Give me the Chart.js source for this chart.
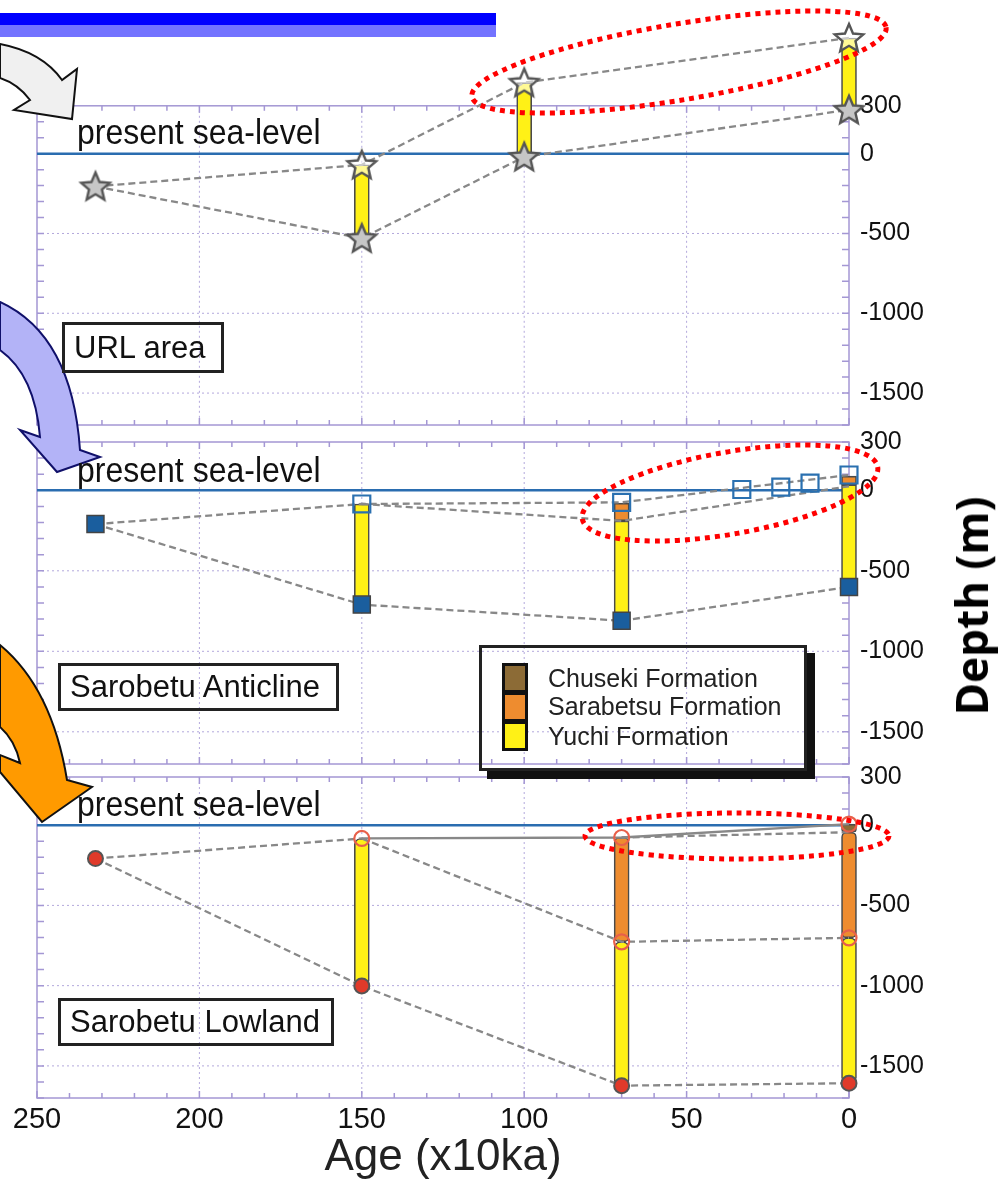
<!DOCTYPE html>
<html>
<head>
<meta charset="utf-8">
<script src="https://cdn.jsdelivr.net/npm/chart.js@4.4.1/dist/chart.umd.min.js"></script>
<style>
  body { margin: 0; background: #fff; }
  #wrap { position: relative; width: 998px; height: 1184px; overflow: hidden; font-family: "Liberation Sans", Arial, sans-serif; color: #111; }
  #wrap canvas { position: absolute; left: 0; top: 0; }
  .bar1 { position: absolute; left: 0; top: 13px; width: 496px; height: 12px; background: #0000ff; }
  .bar2 { position: absolute; left: 0; top: 25px; width: 496px; height: 12px; background: #7373ff; }
  .sea { position: absolute; left: 77px; font-size: 32px; line-height: 32px; white-space: nowrap; z-index: 6; transform: scaleY(1.08); transform-origin: left bottom; }
  .area { position: absolute; border: 3px solid #222; box-sizing: border-box; font-size: 31px; padding-left: 9px; white-space: nowrap; z-index: 6; }
  .legend { position: absolute; left: 479px; top: 645px; width: 328px; height: 126px; border: 3px solid #222; box-sizing: border-box; box-shadow: 8px 8px 0 #111; z-index: 6; }
  .sw { position: absolute; left: 20px; width: 26px; height: 30px; border: 3px solid #111; box-sizing: border-box; }
  .lt { position: absolute; left: 66px; font-size: 25px; line-height: 25px; white-space: nowrap; color: #222; }
  .depth { position: absolute; left: 971px; top: 606px; transform: translate(-50%, -50%) rotate(-90deg); font-family: "Open Sans", sans-serif; font-weight: bold; font-size: 44px; white-space: nowrap; color: #000; z-index: 6; }
</style>
</head>
<body>
<div id="wrap">
  <div class="bar1"></div><div class="bar2"></div>
  <canvas id="c1" width="998" height="1184" style="z-index:1"></canvas>
  <canvas id="c2" width="998" height="1184" style="z-index:2"></canvas>
  <canvas id="c3" width="998" height="1184" style="z-index:3"></canvas>
  <canvas id="deco" width="998" height="1184" style="z-index:5"></canvas>

  <div class="sea" style="top:117px">present sea-level</div>
  <div class="sea" style="top:455px">present sea-level</div>
  <div class="sea" style="top:789px">present sea-level</div>

  <div class="area" style="left:62px;top:322px;width:162px;height:51px;line-height:45px">URL area</div>
  <div class="area" style="left:58px;top:663px;width:281px;height:48px;line-height:42px">Sarobetu Anticline</div>
  <div class="area" style="left:58px;top:998px;width:276px;height:48px;line-height:42px">Sarobetu Lowland</div>

  <div class="legend">
    <div class="sw" style="top:15px;background:#8c6b36"></div>
    <div class="sw" style="top:44px;background:#ee8c2f"></div>
    <div class="sw" style="top:73px;background:#fff116"></div>
    <div class="lt" style="top:18px">Chuseki Formation</div>
    <div class="lt" style="top:46px">Sarabetsu Formation</div>
    <div class="lt" style="top:76px">Yuchi Formation</div>
  </div>

  <div class="depth">Depth (m)</div>
</div>

<script>
// axis ticks
const depthTicks = [300, 0, -500, -1000, -1500];
const seaAges = [250, 0];
const seaDepth = [0, 0];

// URL area
const urlAges = [232, 150, 100, 0];
const urlUpper = [-205, -70, 445, 725];
const urlLower = [-205, -530, -20, 275];
const urlColAges = [150, 100, 0];
const urlYuchiTop = [-70, 445, 725];
const urlYuchiBase = [-530, -20, 275];

// Sarobetu Anticline
const antAges = [232, 150, 70, 0];
const antUpper = [-210, -85, -75, 95];
const antLower = [-210, -710, -810, -600];
const antBranchAges = [150, 70, 0];
const antBranch = [-85, -190, 25];
const antTerraceAges = [33, 21, 12];
const antTerrace = [5, 20, 45];
const antColAges = [150, 70, 0];
const antSarabetsuTop = [null, -80, 88];
const antSarabetsuBase = [null, -190, 35];
const antYuchiTop = [-85, -190, 35];
const antYuchiBase = [-710, -810, -600];

// Sarobetu Lowland
const lowAges = [232, 150, 70, 0];
const lowUpper = [-208, -83, -77, 6];
const lowLower = [-208, -1002, -1623, -1608];
const lowMidAges = [150, 70, 0];
const lowMid = [-83, -727, -702];
const lowBranchAges = [70, 0];
const lowBranch = [-77, -44];
const lowColAges = [150, 70, 0];
const lowChusekiTop = [null, null, 6];
const lowChusekiBase = [null, null, -44];
const lowSarabetsuTop = [null, -77, -44];
const lowSarabetsuBase = [null, -727, -702];
const lowYuchiTop = [-83, -727, -702];
const lowYuchiBase = [-1002, -1623, -1608];

Chart.defaults.font.family = "'Liberation Sans', Arial, sans-serif";

const YELLOW = '#fff116', ORANGE = '#ee8c2f', BROWN = '#8c6b36';
const frameColor = '#a497d4';
const gridColor = '#b3a8dc';

function pts(ages, vals) {
  const out = [];
  ages.forEach((a, i) => { if (vals[i] !== null) out.push({ x: a, y: vals[i] }); });
  return out;
}
function cols(ages, tops, bases) {
  const out = [];
  ages.forEach((a, i) => { if (tops[i] !== null) out.push({ x: a, y: [bases[i], tops[i]] }); });
  return out;
}

function starImg(fill) {
  const c = document.createElement('canvas');
  c.width = 36; c.height = 36;
  const g = c.getContext('2d');
  g.beginPath();
  for (let i = 0; i < 10; i++) {
    const r = i % 2 ? 6.8 : 15;
    const a = -Math.PI / 2 + i * Math.PI / 5;
    g.lineTo(18 + r * Math.cos(a), 19 + r * Math.sin(a));
  }
  g.closePath();
  g.fillStyle = fill; g.fill();
  g.lineWidth = 2.4; g.strokeStyle = '#555'; g.stroke();
  return c;
}
const starFull = starImg('#c6c6c6');
const starOpen = starImg('rgba(255,255,255,0.55)');

function seaLine() {
  return { type: 'line', data: pts(seaAges, seaDepth), borderColor: '#2a6db0', borderWidth: 2.5, pointRadius: 0, order: 6 };
}
function bar(data, color, radius) {
  return { type: 'bar', data, backgroundColor: color, borderColor: '#4a4a4a', borderWidth: 1.6, borderSkipped: false,
           barThickness: 15, grouped: false, borderRadius: radius || 0, order: 5, clip: false };
}
function path(data, dashed) {
  return { type: 'line', data, borderColor: '#888', borderWidth: 2.3, borderDash: dashed === false ? [] : [7, 4],
           pointRadius: 0, tension: 0, order: 3, clip: false };
}
function marks(data, style) {
  return Object.assign({ type: 'line', data, showLine: false, order: 1, clip: false }, style);
}

const framePlugin = {
  id: 'frame',
  beforeDatasetsDraw(chart) {
    const { ctx, chartArea: a, scales: { x, y } } = chart;
    const top = y.getPixelForValue(300);
    const bottom = a.bottom;
    ctx.save();
    // dotted grid
    ctx.strokeStyle = gridColor; ctx.lineWidth = 1; ctx.setLineDash([2, 3]);
    ctx.beginPath();
    [200, 150, 100, 50].forEach(v => { const px = x.getPixelForValue(v); ctx.moveTo(px, top); ctx.lineTo(px, bottom); });
    [-500, -1000, -1500].forEach(v => { const py = y.getPixelForValue(v); ctx.moveTo(a.left, py); ctx.lineTo(a.right, py); });
    ctx.stroke();
    ctx.setLineDash([]);
    // box and minor ticks
    ctx.strokeStyle = frameColor; ctx.lineWidth = 1.5;
    ctx.strokeRect(a.left, top, a.right - a.left, bottom - top);
    ctx.beginPath();
    for (let v = 0; v <= 250; v += 10) {
      const px = x.getPixelForValue(v);
      const len = v % 50 === 0 ? 7 : 5;
      ctx.moveTo(px, top); ctx.lineTo(px, top + len);
      ctx.moveTo(px, bottom); ctx.lineTo(px, bottom - len);
    }
    for (let v = -1700; v <= 300; v += 100) {
      const py = y.getPixelForValue(v);
      ctx.moveTo(a.left, py); ctx.lineTo(a.left + 7, py);
      ctx.moveTo(a.right, py); ctx.lineTo(a.right - 7, py);
    }
    ctx.stroke();
    ctx.restore();
  }
};

function makePanel(id, datasets, o) {
  return new Chart(document.getElementById(id), {
    type: 'line',
    data: { datasets },
    options: {
      responsive: false,
      animation: false,
      devicePixelRatio: 1,
      layout: { padding: { left: 37, right: 0, top: o.padTop, bottom: o.padBottom } },
      plugins: { legend: { display: false }, tooltip: { enabled: false } },
      scales: {
        x: {
          type: 'linear', reverse: true, min: 0, max: 250, offset: false,
          grid: { display: false, drawTicks: false }, border: { display: false },
          ticks: { display: o.showX, stepSize: 50, color: '#111', padding: 5, font: { size: 29 }, callback: v => String(v) },
          title: { display: o.showX, text: 'Age (x10ka)', color: '#222', padding: 0, font: { size: 44 } },
          afterFit: s => { s.height = o.xHeight; }
        },
        y: {
          type: 'linear', position: 'right', min: -1700, max: o.yMax,
          grid: { display: false, drawTicks: false }, border: { display: false },
          afterBuildTicks: s => { s.ticks = depthTicks.map(v => ({ value: v })); },
          ticks: { color: '#111', padding: 11, font: { size: 25 }, callback: v => String(v) },
          afterFit: s => { s.width = 149; }
        }
      }
    },
    plugins: [framePlugin]
  });
}

// URL area
makePanel('c1', [
  seaLine(),
  bar(cols(urlColAges, urlYuchiTop, urlYuchiBase), YELLOW),
  path(pts(urlAges, urlUpper)),
  path(pts(urlAges, urlLower)),
  marks(pts(urlColAges, urlYuchiTop), { pointStyle: starOpen, pointRadius: 15 }),
  marks(pts(urlAges, urlLower), { pointStyle: starFull, pointRadius: 15 })
], { padTop: 22.5, padBottom: 759, xHeight: 0, yMax: 800, showX: false });

// Sarobetu Anticline
const sqOpen = { pointStyle: 'rect', pointRadius: 12, backgroundColor: 'rgba(255,255,255,0)', borderColor: '#2a70b0', borderWidth: 2.2 };
makePanel('c2', [
  seaLine(),
  bar(cols(antColAges, antSarabetsuTop, antSarabetsuBase), ORANGE),
  bar(cols(antColAges, antYuchiTop, antYuchiBase), YELLOW),
  path(pts(antAges, antUpper)),
  path(pts(antBranchAges, antBranch)),
  path(pts(antAges, antLower)),
  marks(pts(antBranchAges, antUpper.slice(1)), sqOpen),
  marks(pts(antTerraceAges, antTerrace), sqOpen),
  marks(pts(antAges, antLower), { pointStyle: 'rect', pointRadius: 12, backgroundColor: '#1a5e9e', borderColor: '#444', borderWidth: 1.5 })
], { padTop: 442, padBottom: 420, xHeight: 0, yMax: 300, showX: false });

// Sarobetu Lowland
const ringRed = { pointStyle: 'circle', pointRadius: 7.5, backgroundColor: 'rgba(255,255,255,0)', borderColor: '#e8604a', borderWidth: 2.2 };
makePanel('c3', [
  seaLine(),
  bar(cols(lowColAges, lowChusekiTop, lowChusekiBase), BROWN, 3),
  bar(cols(lowColAges, lowSarabetsuTop, lowSarabetsuBase), ORANGE, 5),
  bar(cols(lowColAges, lowYuchiTop, lowYuchiBase), YELLOW, 6),
  Object.assign(path(pts(lowAges, lowUpper), false), { segment: { borderDash: c => c.p0DataIndex === 0 ? [7, 4] : [] } }),
  path(pts(lowBranchAges, lowBranch)),
  path(pts(lowMidAges, lowMid)),
  path(pts(lowAges, lowLower)),
  marks(pts(lowColAges, lowUpper.slice(1)), ringRed),
  marks(pts(lowColAges, lowSarabetsuBase), ringRed),
  marks(pts(lowAges, lowLower), { pointStyle: 'circle', pointRadius: 7.5, backgroundColor: '#e03a2a', borderColor: '#555', borderWidth: 2 })
], { padTop: 777, padBottom: 0, xHeight: 86, yMax: 300, showX: true });

// arrows and dotted highlight ellipses
const d = document.getElementById('deco').getContext('2d');
d.lineJoin = 'miter';
d.lineWidth = 2;

d.beginPath();
d.moveTo(0, 44);
d.quadraticCurveTo(42, 52, 62, 80);
d.lineTo(77, 69);
d.lineTo(72, 119);
d.lineTo(14, 110);
d.lineTo(30, 100);
d.quadraticCurveTo(18, 84, 0, 78);
d.closePath();
d.fillStyle = '#f0f0f0'; d.fill();
d.strokeStyle = '#111'; d.stroke();

d.beginPath();
d.moveTo(0, 302);
d.quadraticCurveTo(72, 335, 80, 450);
d.lineTo(100, 457);
d.lineTo(57, 472);
d.lineTo(20, 430);
d.lineTo(40, 437);
d.quadraticCurveTo(35, 375, 0, 350);
d.closePath();
d.fillStyle = '#b3b3f7'; d.fill();
d.strokeStyle = '#10106a'; d.stroke();

d.beginPath();
d.moveTo(0, 645);
d.quadraticCurveTo(52, 688, 67, 780);
d.lineTo(92, 787);
d.lineTo(42, 822);
d.lineTo(0, 772);
d.lineTo(0, 755);
d.lineTo(20, 763);
d.quadraticCurveTo(15, 740, 0, 727);
d.closePath();
d.fillStyle = '#ff9a00'; d.fill();
d.strokeStyle = '#111'; d.stroke();

d.strokeStyle = '#ff0000';
d.lineWidth = 5;
d.setLineDash([5, 5]);
[[679, 62, 210, 38, -9.5], [730, 493, 150, 41, -10], [737, 836, 152, 23, 0]].forEach(e => {
  d.beginPath();
  d.ellipse(e[0], e[1], e[2], e[3], e[4] * Math.PI / 180, 0, Math.PI * 2);
  d.stroke();
});
</script>
</body>
</html>
